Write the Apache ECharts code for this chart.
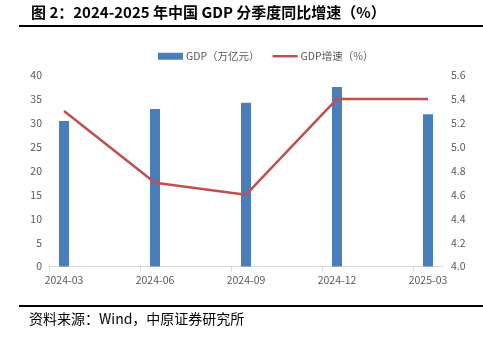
<!DOCTYPE html>
<html>
<head>
<meta charset="utf-8">
<script src="https://cdn.jsdelivr.net/npm/echarts@6/dist/echarts.min.js"></script>
<style>
  html, body { margin: 0; padding: 0; background: #fff; }
  #chart { width: 483px; height: 341px; }
</style>
</head>
<body>
<div id="chart"></div>
<script>
// Quarterly China GDP (trillion yuan) and year-on-year growth (%)
const quarters = ['2024-03', '2024-06', '2024-09', '2024-12', '2025-03'];
const gdpValues = [30.4, 32.9, 34.2, 37.5, 31.8];
const growthValues = [5.3, 4.7, 4.6, 5.4, 5.4];
const leftTicks = [0, 5, 10, 15, 20, 25, 30, 35, 40];
const rightTicks = [4.0, 4.2, 4.4, 4.6, 4.8, 5.0, 5.2, 5.4, 5.6];

const titleText = '图 2：2024-2025 年中国 GDP 分季度同比增速（%）';
const sourceText = '资料来源：Wind，中原证券研究所';
const seriesNames = ['GDP（万亿元）', 'GDP增速（%）'];

// The date axis puts each quarter a fixed fraction past its tick mark
const tickShift = 0.165;
const xMin = -tickShift;
const xMax = quarters.length - 1 + tickShift;
const tickPositions = quarters.map((_, i) => i - tickShift);

const labelFont = "'Noto Sans CJK SC', 'Liberation Sans', sans-serif";
const axisGrey = '#595959';

const chart = echarts.init(document.getElementById('chart'), null, { renderer: 'canvas' });

chart.setOption({
  animation: false,
  backgroundColor: '#ffffff',
  grid: { left: 49, right: 40, top: 75, bottom: 74.5, containLabel: false },
  legend: {
    top: 46,
    left: 153,
    itemWidth: 25,
    itemHeight: 7,
    itemGap: 13,
    symbolKeepAspect: true,
    textStyle: { color: axisGrey, fontSize: 10.5, fontFamily: labelFont, padding: [0, 0, 0, -2] },
    data: [
      { name: seriesNames[0], icon: 'rect' },
      { name: seriesNames[1], icon: 'path://M0,0H25V2.5H0Z' }
    ]
  },
  xAxis: {
    type: 'value',
    min: xMin,
    max: xMax,
    splitLine: { show: false },
    axisLine: { show: true, lineStyle: { color: '#d9d9d9', width: 1 } },
    axisTick: {
      show: true,
      length: 5,
      lineStyle: { color: '#d9d9d9' },
      customValues: tickPositions
    },
    axisLabel: {
      color: axisGrey,
      fontSize: 10.5,
      fontFamily: labelFont,
      margin: 8,
      customValues: quarters.map((_, i) => i),
      formatter: v => quarters[Math.round(v)] || ''
    }
  },
  yAxis: [
    {
      type: 'value',
      min: leftTicks[0],
      max: leftTicks[leftTicks.length - 1],
      interval: leftTicks[1] - leftTicks[0],
      splitLine: { show: false },
      axisLine: { show: false },
      axisTick: { show: false },
      axisLabel: { color: axisGrey, fontSize: 10.5, fontFamily: labelFont, margin: 7 }
    },
    {
      type: 'value',
      min: rightTicks[0],
      max: rightTicks[rightTicks.length - 1],
      interval: 0.2,
      splitLine: { show: false },
      axisLine: { show: false },
      axisTick: { show: false },
      axisLabel: {
        color: axisGrey, fontSize: 10.5, fontFamily: labelFont, margin: 8,
        formatter: v => v.toFixed(1)
      }
    }
  ],
  series: [
    {
      name: seriesNames[0],
      type: 'bar',
      yAxisIndex: 0,
      barWidth: 10,
      itemStyle: { color: '#4a7ebb' },
      data: gdpValues.map((v, i) => [i, v])
    },
    {
      name: seriesNames[1],
      type: 'line',
      yAxisIndex: 1,
      symbol: 'none',
      lineStyle: { color: '#c0504d', width: 2.5 },
      itemStyle: { color: '#c0504d' },
      data: growthValues.map((v, i) => [i, v])
    }
  ],
  graphic: [
    {
      type: 'text',
      left: 31,
      top: 5,
      style: {
        text: titleText,
        fill: '#000',
        font: "bold 15px 'Noto Sans CJK SC', sans-serif"
      }
    },
    {
      type: 'line',
      shape: { x1: 19, y1: 26, x2: 483, y2: 26 },
      style: { stroke: '#000', lineWidth: 2 }
    },
    {
      type: 'line',
      shape: { x1: 19, y1: 306, x2: 483, y2: 306 },
      style: { stroke: '#000', lineWidth: 2 }
    },
    {
      type: 'text',
      left: 29,
      top: 312,
      style: {
        text: sourceText,
        fill: '#000',
        font: "14px 'Noto Sans CJK SC', sans-serif"
      }
    }
  ]
});
</script>
</body>
</html>
